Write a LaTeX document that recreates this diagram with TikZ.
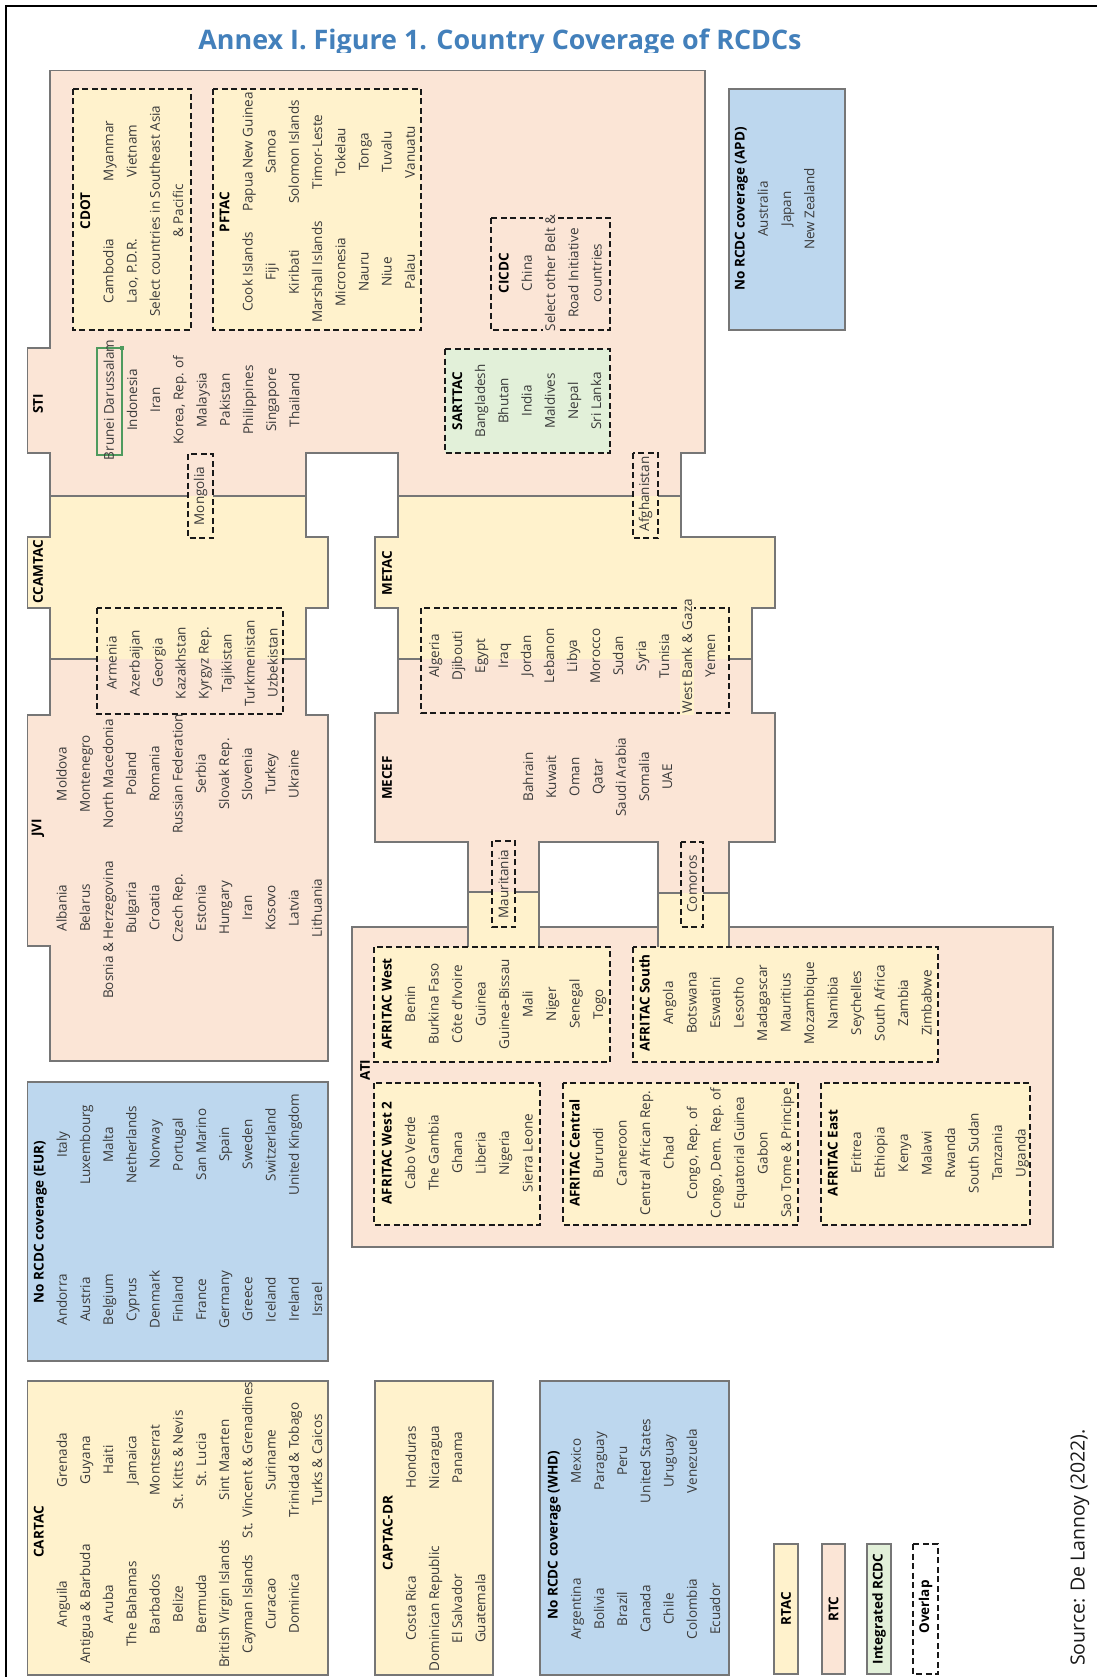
\documentclass[tikz,border=0pt]{standalone}
\usepackage{fontspec}
\setmainfont{Open Sans}
\usepackage{array}
\definecolor{rtc}{HTML}{FBE5D6}
\definecolor{rtac}{HTML}{FFF2CC}
\definecolor{nob}{HTML}{BDD7EE}
\definecolor{intg}{HTML}{E2F0D9}
\definecolor{outl}{HTML}{767676}
\definecolor{ttl}{HTML}{4380BB}
\definecolor{txt}{HTML}{3A3A3A}
\definecolor{brn}{HTML}{4E9A5E}
\newcolumntype{W}[1]{>{\hbox to #1\bgroup\hss}c<{\hss\egroup}}
\newcommand{\myspan}[1]{\multicolumn{2}{c}{\hbox to 0pt{\hss#1\hss}}}
\newcommand{\hd}[1]{{\bfseries\color{black}#1}}
\setlength{\tabcolsep}{0pt}
\setlength{\fboxsep}{1.5pt}
\tikzset{
  lst/.style={rotate=90, inner sep=0pt, text=txt, font=\fontsize{13.5}{23.2}\selectfont},
  lsta/.style={rotate=90, inner sep=0pt, text=txt, font=\fontsize{13.5}{23}\selectfont},
  lstb/.style={rotate=90, inner sep=0pt, text=txt, font=\fontsize{13.5}{23.5}\selectfont},
  hdr/.style={rotate=90, inner sep=0pt, text=black, font=\fontsize{13.5}{23.2}\selectfont\bfseries},
  dbox/.style={draw=black!90, line width=1.6pt, dash pattern=on 6pt off 3.5pt},
  sbox/.style={draw=outl, line width=1.2pt},
  edge/.style={draw=outl, line width=1.2pt},
}
\begin{document}
\begin{tikzpicture}[x=1pt,y=-1pt]
\useasboundingbox (0,0) rectangle (1097,1677);
\fill[white] (0,0) rectangle (1097,1677);
% frame
\draw[line width=1.8pt] (5.7,1677) -- (5.7,5.7) -- (1097,5.7);
% title (clipped as in the reference)
\begin{scope}
\clip (0,0) rectangle (1097,53);
\node[anchor=base, inner sep=0pt, text=ttl, font=\fontsize{26.9}{30}\selectfont\bfseries] (title) at (500,50) {Annex I. Figure 1. Country Coverage of RCDCs};
\end{scope}
% union RTC shape
\def\upath{(50,70.7) -- (705,70.7) -- (705,453) -- (681,453) -- (681,537) -- (775,537) -- (775,608) -- (752,608) -- (752,713) -- (775,713) -- (775,842) -- (729,842) -- (729,927) -- (1053,927) -- (1053,1247) -- (352,1247) -- (352,927) -- (468,927) -- (468,842) -- (375,842) -- (375,713) -- (398,713) -- (398,608) -- (375,608) -- (375,537) -- (398,537) -- (398,453) -- (306,453) -- (306,537) -- (328,537) -- (328,608) -- (306,608) -- (306,715) -- (328,715) -- (328,1061) -- (50,1061) -- (50,946) -- (27.7,946) -- (27.7,715) -- (50,715) -- (50,608) -- (27.7,608) -- (27.7,537) -- (50,537) -- (50,453) -- (27.7,453) -- (27.7,348) -- (50,348) -- cycle (539,842) rectangle (658,927)}
\fill[rtc, even odd rule] \upath;
% RTAC bands
\fill[rtac] (50,496) -- (306,496) -- (306,537) -- (328,537) -- (328,608) -- (306,608) -- (306,659) -- (50,659) -- (50,608) -- (27.7,608) -- (27.7,537) -- (50,537) -- cycle;
\fill[rtac] (398,496) -- (681,496) -- (681,537) -- (775,537) -- (775,608) -- (752,608) -- (752,659) -- (398,659) -- (398,608) -- (375,608) -- (375,537) -- (398,537) -- cycle;
\fill[rtac] (468,892) rectangle (539,947);
\fill[rtac] (658,893) rectangle (729,947);
\draw[edge] \upath;
\draw[edge] (50,496) -- (188,496) (213,496) -- (306,496)
 (398,496) -- (633,496) (658,496) -- (681,496)
 (50,659) -- (97,659) (283,659) -- (306,659)
 (398,659) -- (421,659) (729,659) -- (752,659)
 (468,892) -- (492,892) (515,892) -- (539,892)
 (658,893) -- (681,893) (703,893) -- (729,893)
 (468,927) -- (468,947) (539,927) -- (539,947)
 (658,927) -- (658,947) (729,927) -- (729,947);
% solid boxes
\draw[sbox, fill=nob] (729,89) rectangle (845,330);
\draw[sbox, fill=nob] (27.7,1082) rectangle (328,1361);
\draw[sbox, fill=rtac] (27.7,1381) rectangle (328,1675);
\draw[sbox, fill=rtac] (375,1381) rectangle (493,1675);
\draw[sbox, fill=nob] (540,1381) rectangle (729,1675);
\draw[sbox, fill=rtac] (774,1544) rectangle (798,1674);
\draw[sbox, fill=rtc] (822,1544) rectangle (845,1674);
\draw[sbox, fill=intg] (867,1544) rectangle (891,1674);
% dashed boxes
\draw[dbox, fill=rtac] (73,89) rectangle (191,330);
\draw[dbox, fill=rtac] (213,89) rectangle (421,330);
\draw[dbox] (491,218) rectangle (610,330);
\draw[dbox, fill=intg] (445,349) rectangle (610,453);
\draw[dbox] (188,454) rectangle (213,538);
\draw[dbox] (633,453) rectangle (658,538);
\draw[dbox] (97,608) rectangle (283,714);
\draw[dbox] (421,608) rectangle (729,713);
\draw[dbox] (492,841) rectangle (515,927);
\draw[dbox] (681,842) rectangle (703,927);
\draw[dbox, fill=rtac] (374,947) rectangle (610,1062);
\draw[dbox, fill=rtac] (633,947) rectangle (938,1062);
\draw[dbox, fill=rtac] (374,1083) rectangle (540,1225);
\draw[dbox, fill=rtac] (563,1083) rectangle (798,1225);
\draw[dbox, fill=rtac] (821,1083) rectangle (1030,1225);
\draw[dbox, fill=white] (913,1544) rectangle (938,1674);
% Brunei highlight
\draw[brn, line width=1.1pt] (97,348) rectangle (122,455);
\fill[brn] (119.8,345.8) rectangle (124.2,350.2);
% labels
\node[hdr] (sti) at (38,404) {STI};
\node[hdr] (ccamtac) at (38,572) {CCAMTAC};
\node[hdr] (jvi) at (38,828) {JVI};
\node[hdr] (metac) at (387,573) {METAC};
\node[hdr] (mecef) at (387,778) {MECEF};
\node[hdr] (ati) at (365,1070) {ATI};
% CDOT
\node[lst] (cdot) at (132,211) {\begin{tabular}{W{120pt}W{120pt}}
\myspan{\hd{CDOT}}\\
Cambodia & Myanmar\\
Lao, P.D.R. & Vietnam\\
\myspan{Select countries in Southeast Asia}\\
\myspan{\& Pacific}
\end{tabular}};
% PFTAC
\node[lst] (pftac) at (317.5,212) {\begin{tabular}{W{120pt}W{120pt}}
\myspan{\hd{PFTAC}}\\
Cook Islands & Papua New Guinea\\
Fiji & Samoa\\
Kiribati & Solomon Islands\\
Marshall Islands & Timor-Leste\\
Micronesia & Tokelau\\
Nauru & Tonga\\
Niue & Tuvalu\\
Palau & Vanuatu
\end{tabular}};
% CICDC
\node[lst] (cicdc) at (550.5,273) {\begin{tabular}{c}
\hd{CICDC}\\
China\\
\colorbox{rtc}{Select other Belt \&}\\
Road Initiative\\
countries
\end{tabular}};
% SARTTAC
\node[lst] (sarttac) at (527,401) {\begin{tabular}{c}
\hd{SARTTAC}\\ Bangladesh\\ Bhutan\\ India\\ Maldives\\ Nepal\\ Sri Lanka
\end{tabular}};
% STI list
\node[lst] (stilist) at (202,400) {\begin{tabular}{c}
Brunei Darussalam\\ Indonesia\\ Iran\\ Korea, Rep. of\\ Malaysia\\ Pakistan\\ Philippines\\ Singapore\\ Thailand
\end{tabular}};
% APD
\node[lst] (apd) at (774.8,209) {\begin{tabular}{c}
\hd{No RCDC coverage (APD)}\\ Australia\\ Japan\\ New Zealand
\end{tabular}};
\node[lst] (mongolia) at (200.5,496) {Mongolia};
\node[lst] (afghanistan) at (645.5,494) {Afghanistan};
% CCAMTAC list
\node[lsta] (ccalist) at (192.5,663) {\begin{tabular}{c}
Armenia\\ Azerbaijan\\ Georgia\\ Kazakhstan\\ Kyrgyz Rep.\\ Tajikistan\\ Turkmenistan\\ Uzbekistan
\end{tabular}};
% JVI list
\node[lst] (jvilist) at (189.6,841) {\begin{tabular}{W{134pt}W{134pt}}
Albania & Moldova\\
Belarus & Montenegro\\
\hbox to 0pt{\hss\hspace*{-44pt}Bosnia \& Herzegovina\hss} & North Macedonia\\
Bulgaria & Poland\\
Croatia & Romania\\
Czech Rep. & Russian Federation\\
Estonia & Serbia\\
Hungary & Slovak Rep.\\
Iran & Slovenia\\
Kosovo & Turkey\\
Latvia & Ukraine\\
Lithuania &
\end{tabular}};
% METAC overlap list
\node[lsta] (metlist) at (572.5,656) {\begin{tabular}{c}
Algeria\\ Djibouti\\ Egypt\\ Iraq\\ Jordan\\ Lebanon\\ Libya\\ Morocco\\ Sudan\\ Syria\\ Tunisia\\ \colorbox{rtac}{West Bank \& Gaza}\\ Yemen
\end{tabular}};
% MECEF list
\node[lst] (meclist) at (598,777) {\begin{tabular}{c}
Bahrain\\ Kuwait\\ Oman\\ Qatar\\ Saudi Arabia\\ Somalia\\ UAE
\end{tabular}};
\node[lst] (mauritania) at (503.5,884) {Mauritania};
\node[lst] (comoros) at (692,884) {Comoros};
% AFRITAC boxes
\node[lstb] (afw) at (492.7,1004) {\begin{tabular}{c}
\hd{AFRITAC West}\\ Benin\\ Burkina Faso\\ Côte d'Ivoire\\ Guinea\\ Guinea-Bissau\\ Mali\\ Niger\\ Senegal\\ Togo
\end{tabular}};
\node[lstb] (afs) at (786,1003) {\begin{tabular}{c}
\hd{AFRITAC South}\\ Angola\\ Botswana\\ Eswatini\\ Lesotho\\ Madagascar\\ Mauritius\\ Mozambique\\ Namibia\\ Seychelles\\ South Africa\\ Zambia\\ Zimbabwe
\end{tabular}};
\node[lstb] (afw2) at (457.5,1153) {\begin{tabular}{c}
\hd{AFRITAC West 2}\\ Cabo Verde\\ The Gambia\\ Ghana\\ Liberia\\ Nigeria\\ Sierra Leone
\end{tabular}};
\node[lstb] (afc) at (680.7,1153) {\begin{tabular}{c}
\hd{AFRITAC Central}\\ Burundi\\ Cameroon\\ Central African Rep.\\ Chad\\ Congo, Rep. of\\ Congo, Dem. Rep. of\\ Equatorial Guinea\\ Gabon\\ Sao Tome \& Principe
\end{tabular}};
\node[lstb] (afe) at (927,1153) {\begin{tabular}{c}
\hd{AFRITAC East}\\ Eritrea\\ Ethiopia\\ Kenya\\ Malawi\\ Rwanda\\ South Sudan\\ Tanzania\\ Uganda
\end{tabular}};
% EUR
\node[lst] (eur) at (178.2,1222) {\begin{tabular}{W{155pt}W{155pt}}
\myspan{\hd{No RCDC coverage (EUR)}}\\
Andorra & Italy\\
Austria & Luxembourg\\
Belgium & Malta\\
Cyprus & Netherlands\\
Denmark & Norway\\
Finland & Portugal\\
France & San Marino\\
Germany & Spain\\
Greece & Sweden\\
Iceland & Switzerland\\
Ireland & United Kingdom\\
Israel &
\end{tabular}};
% CARTAC
\node[lst] (cartac) at (178.2,1532) {\begin{tabular}{W{144pt}W{144pt}}
\myspan{\hd{CARTAC}}\\
Anguila & Grenada\\
Antigua \& Barbuda & Guyana\\
Aruba & Haiti\\
The Bahamas & Jamaica\\
Barbados & Montserrat\\
Belize & St. Kitts \& Nevis\\
Bermuda & St. Lucia\\
British Virgin Islands & Sint Maarten\\
Cayman Islands & St. Vincent \& Grenadines\\
Curacao & Suriname\\
Dominica & Trinidad \& Tobago\\
 & Turks \& Caicos
\end{tabular}};
% CAPTAC-DR
\node[lst] (captac) at (434.4,1533) {\begin{tabular}{W{151pt}W{151pt}}
\myspan{\hd{CAPTAC-DR}}\\
Costa Rica & Honduras\\
Dominican Republic & Nicaragua\\
El Salvador & Panama\\
Guatemala &
\end{tabular}};
% WHD
\node[lst] (whd) at (634.2,1535) {\begin{tabular}{W{148pt}W{148pt}}
\myspan{\hd{No RCDC coverage (WHD)}}\\
Argentina & Mexico\\
Bolivia & Paraguay\\
Brazil & Peru\\
Canada & United States\\
Chile & Uruguay\\
Colombia & Venezuela\\
Ecuador &
\end{tabular}};
% legend
\node[hdr] (lgrtac) at (786,1609) {RTAC};
\node[hdr] (lgrtc) at (833.5,1609) {RTC};
\node[hdr] (lgint) at (879,1609) {Integrated RCDC};
\node[hdr] (lgover) at (925.5,1607) {Overlap};
% source
\node[rotate=90, inner sep=0pt, text=black!90, font=\fontsize{19.5}{22}\selectfont] (source) at (1080,1547.5) {Source: De Lannoy (2022).};
\end{tikzpicture}
\end{document}
